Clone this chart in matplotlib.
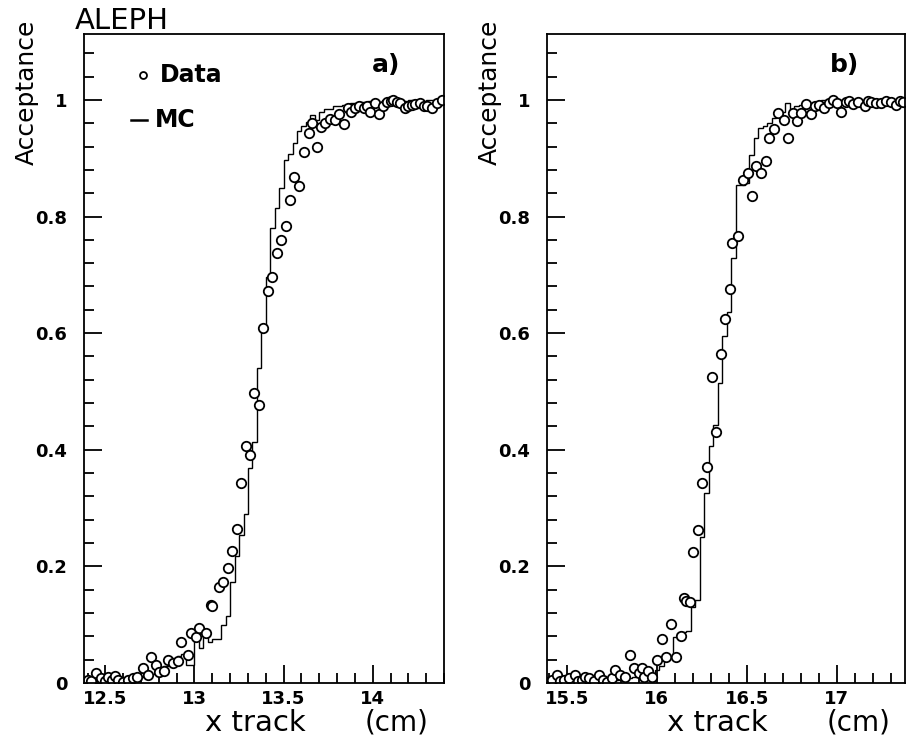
import numpy as np
import matplotlib
matplotlib.use("Agg")
import matplotlib.pyplot as plt
from matplotlib.ticker import MultipleLocator

plt.rcParams['font.family'] = ['DejaVu Sans']

# ---------------- Data: panel a) ----------------
data_a_x = [12.403, 12.42, 12.45, 12.478, 12.50, 12.515, 12.535, 12.552, 12.571, 12.599,
            12.627, 12.655, 12.68, 12.711, 12.738, 12.757, 12.785, 12.803, 12.83, 12.85,
            12.878, 12.906, 12.925, 12.962, 12.980, 13.008, 13.027, 13.064, 13.092, 13.10,
            13.135, 13.159, 13.187, 13.209, 13.236, 13.261, 13.288, 13.312, 13.334, 13.360,
            13.384, 13.411, 13.437, 13.461, 13.487, 13.511, 13.535, 13.558, 13.588, 13.613,
            13.641, 13.66, 13.688, 13.712, 13.735, 13.759, 13.787, 13.81, 13.841, 13.861,
            13.88, 13.902, 13.925, 13.949, 13.97, 13.986, 14.014, 14.038, 14.06, 14.079,
            14.10, 14.116, 14.135, 14.154, 14.182, 14.20, 14.219, 14.24, 14.265, 14.285,
            14.303, 14.331, 14.359, 14.39]
data_a_y = [0.005, 0.003, 0.018, 0.008, 0.004, 0.011, 0.006, 0.012, 0.005, 0.002,
            0.006, 0.008, 0.010, 0.025, 0.014, 0.045, 0.031, 0.019, 0.020, 0.039,
            0.034, 0.037, 0.071, 0.048, 0.085, 0.079, 0.094, 0.085, 0.134, 0.132,
            0.164, 0.174, 0.198, 0.227, 0.264, 0.343, 0.406, 0.391, 0.498, 0.477,
            0.608, 0.672, 0.697, 0.738, 0.760, 0.783, 0.828, 0.868, 0.852, 0.910,
            0.944, 0.960, 0.919, 0.953, 0.960, 0.967, 0.966, 0.975, 0.959, 0.986,
            0.980, 0.986, 0.990, 0.986, 0.990, 0.980, 0.994, 0.975, 0.990, 0.997,
            0.998, 1.000, 0.997, 0.995, 0.986, 0.990, 0.991, 0.993, 0.995, 0.990,
            0.990, 0.986, 0.994, 1.000]

mc_a_start = 12.375
mc_a_width = 0.025
mc_a_vals = [0.003, 0.005, 0.002, 0.004, 0.006, 0.003, 0.004, 0.002, 0.005, 0.004,
             0.006, 0.008, 0.006, 0.010, 0.012, 0.015, 0.016, 0.022, 0.030, 0.033,
             0.040, 0.046, 0.050, 0.031, 0.031, 0.085, 0.060, 0.085, 0.070, 0.075,
             0.075, 0.100, 0.115, 0.174, 0.217, 0.254, 0.289, 0.368, 0.414, 0.540,
             0.610, 0.697, 0.780, 0.814, 0.849, 0.897, 0.908, 0.926, 0.946, 0.955,
             0.962, 0.974, 0.965, 0.980, 0.985, 0.985, 0.990, 0.990, 0.992, 0.990,
             0.995, 0.995, 0.997, 0.996, 0.998, 0.998, 0.997, 0.999, 1.000, 0.998,
             0.999, 1.000, 0.998, 0.999, 1.000, 0.999, 0.998, 1.000, 0.999, 1.000,
             0.999]

# ---------------- Data: panel b) ----------------
data_b_x = [15.398, 15.42, 15.445, 15.465, 15.482, 15.51, 15.547, 15.565, 15.585, 15.60,
            15.621, 15.65, 15.677, 15.70, 15.724, 15.75, 15.770, 15.798, 15.826, 15.854,
            15.872, 15.90, 15.919, 15.928, 15.95, 15.975, 16.003, 16.027, 16.049, 16.077,
            16.105, 16.133, 16.151, 16.16, 16.183, 16.204, 16.231, 16.254, 16.282, 16.306,
            16.330, 16.356, 16.378, 16.408, 16.421, 16.449, 16.477, 16.505, 16.527, 16.551,
            16.579, 16.607, 16.625, 16.653, 16.676, 16.706, 16.728, 16.756, 16.78, 16.802,
            16.83, 16.858, 16.88, 16.904, 16.932, 16.955, 16.979, 17.0, 17.025, 17.053,
            17.07, 17.09, 17.12, 17.155, 17.175, 17.193, 17.22, 17.248, 17.275, 17.304,
            17.332, 17.35, 17.37]
data_b_y = [0.002, 0.006, 0.014, 0.004, 0.005, 0.008, 0.014, 0.004, 0.006, 0.010,
            0.008, 0.004, 0.014, 0.006, 0.002, 0.009, 0.022, 0.014, 0.011, 0.048,
            0.025, 0.018, 0.025, 0.011, 0.020, 0.011, 0.039, 0.075, 0.045, 0.102,
            0.045, 0.081, 0.145, 0.141, 0.139, 0.224, 0.262, 0.343, 0.371, 0.525,
            0.431, 0.564, 0.624, 0.676, 0.755, 0.766, 0.863, 0.874, 0.835, 0.886,
            0.874, 0.896, 0.934, 0.950, 0.977, 0.965, 0.934, 0.978, 0.963, 0.977,
            0.993, 0.976, 0.990, 0.991, 0.986, 0.995, 1.000, 0.995, 0.980, 0.997,
            0.998, 0.993, 0.997, 0.990, 0.998, 0.997, 0.995, 0.994, 0.998, 0.997,
            0.991, 0.998, 0.997]

mc_b_start = 15.39
mc_b_width = 0.025
mc_b_vals = [0.004, 0.006, 0.003, 0.005, 0.004, 0.006, 0.005, 0.003, 0.006, 0.005,
             0.004, 0.007, 0.005, 0.006, 0.008, 0.006, 0.008, 0.010, 0.009, 0.010,
             0.012, 0.011, 0.012, 0.015, 0.022, 0.030, 0.042, 0.045, 0.079, 0.085,
             0.088, 0.090, 0.131, 0.142, 0.251, 0.325, 0.407, 0.443, 0.514, 0.595,
             0.637, 0.728, 0.854, 0.854, 0.858, 0.906, 0.934, 0.951, 0.955, 0.960,
             0.969, 0.975, 0.980, 0.994, 0.985, 0.990, 0.992, 0.990, 0.995, 0.994,
             0.997, 1.000, 1.000, 1.000, 1.000, 1.000, 1.000, 1.000, 1.000, 1.000,
             1.000, 1.000, 1.000, 1.000, 1.000, 1.000, 1.000, 1.000, 1.000, 1.000]

xlim_a = (12.38, 14.40)
xlim_b = (15.39, 17.38)
ylim = (0.0, 1.113)
x_major_a = [12.5, 13.0, 13.5, 14.0]
x_labels_a = ["12.5", "13", "13.5", "14"]
x_major_b = [15.5, 16.0, 16.5, 17.0]
x_labels_b = ["15.5", "16", "16.5", "17"]
y_major = [0.0, 0.2, 0.4, 0.6, 0.8, 1.0]
y_labels = ["0", "0.2", "0.4", "0.6", "0.8", "1"]

W, H = 907, 754
fig = plt.figure(figsize=(W / 100, H / 100), dpi=100)

def px_rect(x0, y0, x1, y1):
    return [x0 / W, 1 - y1 / H, (x1 - x0) / W, (y1 - y0) / H]

ax_a = fig.add_axes(px_rect(84, 34, 444, 683))
ax_b = fig.add_axes(px_rect(547, 34, 905, 683))

def style(ax, xlim, xmaj, xlab, label, ylab_x, lab_fx):
    ax.set_xlim(*xlim)
    ax.set_ylim(*ylim)
    ax.set_xticks(xmaj)
    ax.set_xticklabels(xlab)
    ax.xaxis.set_minor_locator(MultipleLocator(0.1))
    ax.set_yticks(y_major)
    ax.set_yticklabels(y_labels)
    ax.yaxis.set_minor_locator(MultipleLocator(0.04))
    ax.tick_params(axis='both', which='both', direction='in', top=False, right=False,
                   colors='black', width=1.3)
    ax.tick_params(axis='both', which='major', length=13, labelsize=13)
    ax.tick_params(axis='x', which='major', pad=5)
    ax.tick_params(axis='y', which='major', pad=12)
    ax.tick_params(axis='both', which='minor', length=7)
    for lbl in ax.get_xticklabels() + ax.get_yticklabels():
        lbl.set_fontweight('bold')
    for s in ax.spines.values():
        s.set_linewidth(1.3)
    ax.text(0.335, -0.061, "x track", transform=ax.transAxes, ha='left',
            va='center', fontsize=21)
    ax.text(0.78, -0.061, "(cm)", transform=ax.transAxes, ha='left',
            va='center', fontsize=20)
    ax.text(lab_fx, 0.952, label, transform=ax.transAxes, ha='center', va='center',
            fontsize=18, fontweight='bold')
    fig.text(ylab_x / W, 1 - 20 / H, "Acceptance", rotation=90, ha='center', va='top',
             fontsize=18)

ax_a.stairs(mc_a_vals, mc_a_start + mc_a_width * np.arange(len(mc_a_vals) + 1),
            color='black', linewidth=1.0, baseline=None)
ax_a.plot(data_a_x, data_a_y, linestyle='none', marker='o', markersize=6.8,
          markerfacecolor='white', markeredgecolor='black', markeredgewidth=1.3)
ax_b.stairs(mc_b_vals, mc_b_start + mc_b_width * np.arange(len(mc_b_vals) + 1),
            color='black', linewidth=1.0, baseline=None)
ax_b.plot(data_b_x, data_b_y, linestyle='none', marker='o', markersize=6.8,
          markerfacecolor='white', markeredgecolor='black', markeredgewidth=1.3)

style(ax_a, xlim_a, x_major_a, x_labels_a, "a)", 27, 0.84)
style(ax_b, xlim_b, x_major_b, x_labels_b, "b)", 490, 0.83)

# ALEPH label and legend
fig.text(75 / W, 1 - 21 / H, "ALEPH", ha='left', va='center', fontsize=21)
ax_a.plot([0.164], [0.937], transform=ax_a.transAxes, marker='o', markersize=5,
          markerfacecolor='white', markeredgecolor='black', markeredgewidth=1.3,
          linestyle='none')
ax_a.text(0.211, 0.937, "Data", transform=ax_a.transAxes, ha='left', va='center',
          fontsize=17, fontweight='bold')
ax_a.plot([0.13, 0.175], [0.867, 0.867], transform=ax_a.transAxes, color='black',
          linewidth=1.8)
ax_a.text(0.197, 0.867, "MC", transform=ax_a.transAxes, ha='left', va='center',
          fontsize=17, fontweight='bold')

fig.savefig("out.png", dpi=100)
